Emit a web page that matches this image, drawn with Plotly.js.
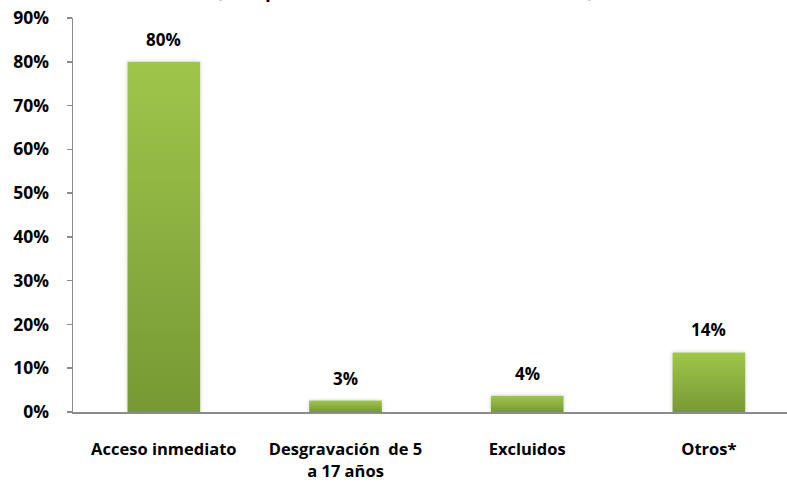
<!DOCTYPE html>
<html>
<head>
<meta charset="utf-8">
<script src="https://cdn.plot.ly/plotly-3.0.1.min.js"></script>
<style>html,body{margin:0;padding:0;background:#fff;}#chart{width:787px;height:486px;}</style>
</head>
<body>
<div id="chart"></div>
<script>
const categories = ["Acceso inmediato", "Desgravación  de 5<br>a 17 años", "Excluidos", "Otros*"];
const shares = [0.80, 0.026, 0.037, 0.136];
const shareLabels = ["80%", "3%", "4%", "14%"];
const tickValues = [0, 0.1, 0.2, 0.3, 0.4, 0.5, 0.6, 0.7, 0.8, 0.9];
const tickLabels = ["0%", "10%", "20%", "30%", "40%", "50%", "60%", "70%", "80%", "90%"];
const titleText = "(Composición de las líneas arancelarias)";

const FONT = "'Open Sans', Lato, sans-serif";

const trace = {
  type: "bar",
  x: categories,
  y: shares,
  width: 0.4,
  marker: {color: "#8cb33f", line: {width: 0}},
  hoverinfo: "none"
};

const annotations = categories.map((c, i) => ({
  x: c, y: shares[i], xref: "x", yref: "y",
  text: shareLabels[i], showarrow: false,
  yanchor: "bottom", yshift: 9,
  font: {family: FONT, size: 17, color: "#000", weight: "bold"}
}));

// chart title, mostly cropped off the top edge as in the reference
annotations.push({
  text: titleText, showarrow: false,
  xref: "paper", yref: "paper", x: 0.465, y: 1,
  xanchor: "center", yanchor: "bottom", yshift: 13,
  font: {family: FONT, size: 19, color: "#000", weight: "bold"}
});

const layout = {
  width: 787, height: 486,
  margin: {l: 73, r: 0, t: 18, b: 74},
  paper_bgcolor: "#fff", plot_bgcolor: "#fff",
  showlegend: false,
  xaxis: {
    range: [-0.5, 3.43],
    showgrid: false, zeroline: false,
    showline: true, linecolor: "#8c8c8c", linewidth: 1.5,
    ticks: "", ticklabelstandoff: 22,
    tickfont: {family: FONT, size: 16.5, color: "#000", weight: "bold"},
    fixedrange: true
  },
  yaxis: {
    range: [0, 0.9],
    tickvals: tickValues, ticktext: tickLabels,
    showgrid: false, zeroline: false,
    showline: true, linecolor: "#8c8c8c", linewidth: 1.5,
    ticks: "outside", ticklen: 5, tickcolor: "#8c8c8c", tickwidth: 1.5,
    ticklabelstandoff: 14,
    tickfont: {family: FONT, size: 17.5, color: "#000", weight: "bold"},
    fixedrange: true
  },
  annotations: annotations
};

Plotly.newPlot("chart", [trace], layout, {staticPlot: true, displayModeBar: false}).then(gd => {
  const svg = gd.querySelector("svg.main-svg");
  const ns = "http://www.w3.org/2000/svg";
  let defs = svg.querySelector("defs");
  if (!defs) { defs = document.createElementNS(ns, "defs"); svg.insertBefore(defs, svg.firstChild); }
  const grad = document.createElementNS(ns, "linearGradient");
  grad.setAttribute("id", "barGrad");
  grad.setAttribute("x1", "0"); grad.setAttribute("y1", "0");
  grad.setAttribute("x2", "0"); grad.setAttribute("y2", "1");
  [["0%", "#9fc64b"], ["100%", "#779934"]].forEach(([o, c]) => {
    const s = document.createElementNS(ns, "stop");
    s.setAttribute("offset", o); s.setAttribute("stop-color", c);
    grad.appendChild(s);
  });
  defs.appendChild(grad);
  const filt = document.createElementNS(ns, "filter");
  filt.setAttribute("id", "barShadow");
  filt.setAttribute("x", "-20%"); filt.setAttribute("y", "-20%");
  filt.setAttribute("width", "140%"); filt.setAttribute("height", "140%");
  filt.innerHTML = '<feDropShadow dx="0" dy="0" stdDeviation="2" flood-color="#000" flood-opacity="0.18"/>';
  defs.appendChild(filt);
  gd.querySelectorAll(".bars path").forEach(p => {
    p.style.fill = "url(#barGrad)";
    p.setAttribute("filter", "url(#barShadow)");
  });
});
</script>
</body>
</html>
